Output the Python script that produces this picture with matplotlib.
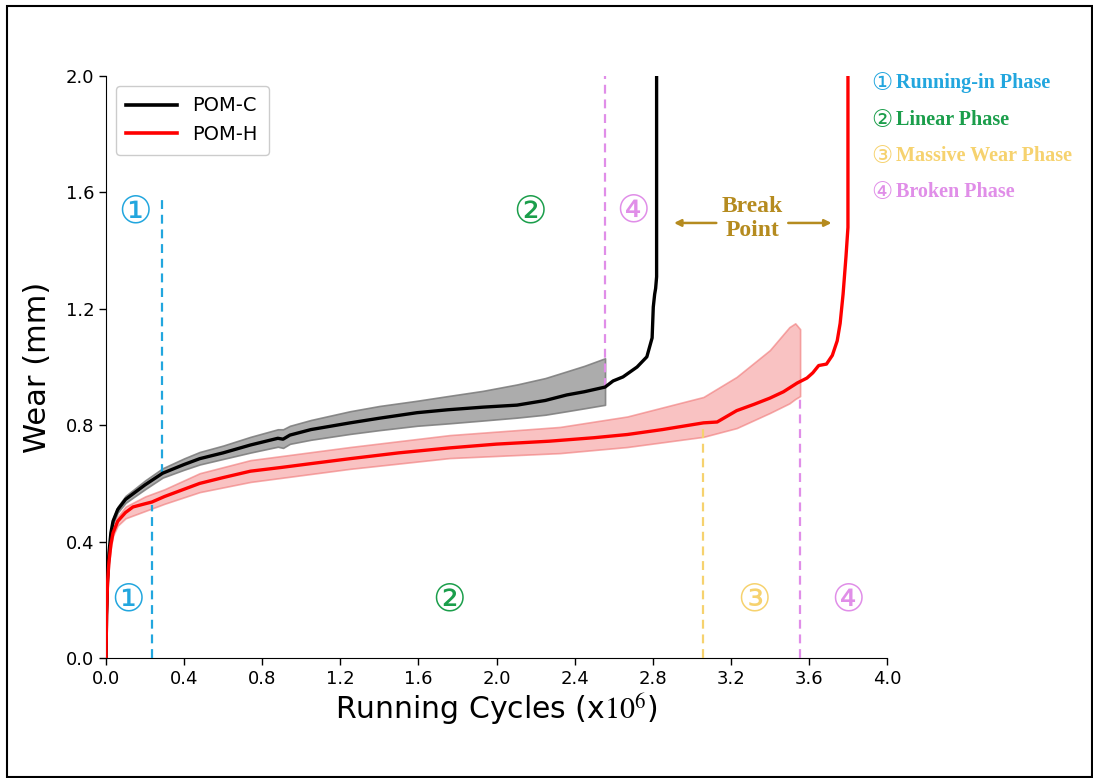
import matplotlib
matplotlib.use("Agg")
import matplotlib.pyplot as plt
from matplotlib.patches import Rectangle

# ---------------- data ----------------
# POM-C mean curve (x in 10^6 cycles, wear in mm)
pomc_x = [0, 0.003, 0.008, 0.015, 0.025, 0.036, 0.06, 0.1, 0.14, 0.2, 0.29, 0.4, 0.48, 0.6,
          0.74, 0.88, 0.907, 0.942, 1.05, 1.25, 1.4, 1.593, 1.75, 1.93, 2.105, 2.25, 2.36, 2.45,
          2.556, 2.597, 2.648, 2.72, 2.77, 2.797, 2.803, 2.81, 2.815, 2.82, 2.82]
pomc_y = [0, 0.15, 0.27, 0.36, 0.43, 0.47, 0.51, 0.545, 0.565, 0.595, 0.635, 0.665, 0.685, 0.705,
          0.732, 0.755, 0.752, 0.766, 0.785, 0.808, 0.824, 0.843, 0.853, 0.862, 0.869, 0.885, 0.904, 0.915,
          0.931, 0.952, 0.966, 1.0, 1.035, 1.10, 1.206, 1.25, 1.27, 1.31, 2.1]
# POM-C scatter band
pomc_band_x = [0, 0.003, 0.008, 0.015, 0.025, 0.036, 0.06, 0.1, 0.14, 0.2, 0.29, 0.4, 0.48, 0.6,
               0.74, 0.88, 0.907, 0.942, 1.05, 1.25, 1.4, 1.593, 1.75, 1.93, 2.105, 2.25, 2.36, 2.45, 2.556]
pomc_low = [0, 0.14, 0.26, 0.35, 0.42, 0.46, 0.50, 0.533, 0.552, 0.58, 0.62, 0.647, 0.665, 0.684,
            0.706, 0.726, 0.722, 0.736, 0.75, 0.77, 0.783, 0.798, 0.806, 0.816, 0.826, 0.836, 0.848, 0.858, 0.87]
pomc_up = [0, 0.16, 0.28, 0.37, 0.44, 0.48, 0.52, 0.557, 0.578, 0.61, 0.652, 0.686, 0.708, 0.73,
           0.76, 0.786, 0.786, 0.798, 0.818, 0.848, 0.866, 0.884, 0.9, 0.918, 0.94, 0.962, 0.985, 1.004, 1.03]

# POM-H mean curve
pomh_x = [0, 0.003, 0.008, 0.015, 0.025, 0.036, 0.06, 0.1, 0.138, 0.2, 0.235, 0.3, 0.48, 0.6,
          0.74, 0.9, 1.05, 1.25, 1.5, 1.76, 2.0, 2.27, 2.5, 2.67, 2.85, 3.06, 3.13, 3.23, 3.32,
          3.40, 3.47, 3.54, 3.59, 3.62, 3.65, 3.69, 3.72, 3.745, 3.76, 3.775, 3.79, 3.80, 3.80]
pomh_y = [0, 0.15, 0.26, 0.33, 0.39, 0.43, 0.47, 0.50, 0.519, 0.53, 0.536, 0.555, 0.60, 0.62,
          0.642, 0.655, 0.668, 0.685, 0.705, 0.722, 0.735, 0.745, 0.757, 0.768, 0.785, 0.808, 0.811, 0.85, 0.872,
          0.893, 0.915, 0.945, 0.962, 0.98, 1.005, 1.01, 1.04, 1.09, 1.15, 1.25, 1.38, 1.48, 2.1]
# POM-H scatter band
pomh_band_x = [0, 0.003, 0.008, 0.015, 0.025, 0.036, 0.06, 0.1, 0.2, 0.3, 0.48, 0.74, 1.25, 1.76,
               2.325, 2.67, 3.06, 3.23, 3.40, 3.50, 3.53, 3.555]
pomh_low = [0, 0.14, 0.25, 0.32, 0.38, 0.42, 0.455, 0.48, 0.505, 0.53, 0.57, 0.605, 0.65, 0.687,
            0.704, 0.725, 0.76, 0.79, 0.842, 0.875, 0.89, 0.90]
pomh_up = [0, 0.16, 0.27, 0.34, 0.40, 0.44, 0.485, 0.52, 0.555, 0.58, 0.635, 0.68, 0.725, 0.766,
           0.794, 0.83, 0.897, 0.966, 1.058, 1.137, 1.15, 1.13]

# phase boundary lines: (x, y_start, y_end)
runin_lines = [(0.234, 0.0, 0.526), (0.285, 0.635, 1.574)]
broken_lines = [(2.556, 0.93, 2.0), (3.555, 0.0, 0.905)]
massive_lines = [(3.06, 0.0, 0.81)]

x_ticks = [0.0, 0.4, 0.8, 1.2, 1.6, 2.0, 2.4, 2.8, 3.2, 3.6, 4.0]
y_ticks = [0.0, 0.4, 0.8, 1.2, 1.6, 2.0]

phase_names = ["Running-in Phase", "Linear Phase", "Massive Wear Phase", "Broken Phase"]
phase_marks = ["\u2460", "\u2461", "\u2462", "\u2463"]
phase_colors = ["#22a6de", "#1b9e4b", "#f6d26e", "#e08ee8"]
gold = "#b58b1f"

# ---------------- figure ----------------
fig = plt.figure(figsize=(10.93, 7.78), dpi=100)
ax = fig.add_axes([106 / 1093, 1 - 658 / 778, 781 / 1093, 582 / 778])

ax.fill_between(pomc_band_x, pomc_low, pomc_up, facecolor="#9e9e9e", edgecolor="#7a7a7a",
                linewidth=1.2, alpha=0.85, zorder=2)
ax.fill_between(pomh_band_x, pomh_low, pomh_up, facecolor="#f59a9a", edgecolor="#f07575",
                linewidth=1.2, alpha=0.6, zorder=2)

ax.plot(pomc_x, pomc_y, color="black", lw=2.4, label="POM-C", zorder=4)
ax.plot(pomh_x, pomh_y, color="#ff0000", lw=2.4, label="POM-H", zorder=4)

dash = (0, (4, 2.6))
for x, y0, y1 in runin_lines:
    ax.plot([x, x], [y0, y1], color=phase_colors[0], lw=1.6, ls=dash, zorder=3)
for x, y0, y1 in broken_lines:
    ax.plot([x, x], [y0, y1], color=phase_colors[3], lw=1.6, ls=dash, zorder=3)
for x, y0, y1 in massive_lines:
    ax.plot([x, x], [y0, y1], color=phase_colors[2], lw=1.6, ls=dash, zorder=3)

ax.set_xlim(0, 4.0)
ax.set_ylim(0, 2.0)
ax.set_xticks(x_ticks)
ax.set_yticks(y_ticks)
ax.set_xticklabels([f"{v:.1f}" for v in x_ticks])
ax.set_yticklabels([f"{v:.1f}" for v in y_ticks])
ax.tick_params(labelsize=13, length=5, width=1)
ax.spines["top"].set_visible(False)
ax.spines["right"].set_visible(False)

ax.set_xlabel("Running Cycles (x$10^6$)", fontsize=21.5, math_fontfamily="stix", labelpad=3)
ax.set_ylabel("Wear (mm)", fontsize=22, labelpad=10)

leg = ax.legend(loc="upper left", fontsize=14, handlelength=2.6, borderaxespad=0.5,
                framealpha=1, borderpad=0.55)
for line in leg.get_lines():
    line.set_linewidth(2.6)

circ_fam = ["DejaVu Sans", "Noto Sans CJK SC"]
big = 27
# in-plot phase markers
ax.text(0.113, 0.196, phase_marks[0], color=phase_colors[0], fontsize=big, family=circ_fam,
        ha="center", va="center")
ax.text(0.148, 1.53, phase_marks[0], color=phase_colors[0], fontsize=big, family=circ_fam,
        ha="center", va="center")
ax.text(1.756, 0.196, phase_marks[1], color=phase_colors[1], fontsize=big, family=circ_fam,
        ha="center", va="center")
ax.text(2.17, 1.53, phase_marks[1], color=phase_colors[1], fontsize=big, family=circ_fam,
        ha="center", va="center")
ax.text(3.32, 0.196, phase_marks[2], color=phase_colors[2], fontsize=big, family=circ_fam,
        ha="center", va="center")
ax.text(3.80, 0.196, phase_marks[3], color=phase_colors[3], fontsize=big, family=circ_fam,
        ha="center", va="center")
ax.text(2.70, 1.535, phase_marks[3], color=phase_colors[3], fontsize=big, family=circ_fam,
        ha="center", va="center")

# break point annotation
ax.text(3.31, 1.51, "Break\nPoint", color=gold, fontsize=17, fontweight="bold",
        family="Liberation Serif", ha="center", va="center", linespacing=1.2)
ax.annotate("", xy=(2.895, 1.495), xytext=(3.14, 1.495),
            arrowprops=dict(arrowstyle="-|>", color=gold, lw=1.8, mutation_scale=10))
ax.annotate("", xy=(3.73, 1.495), xytext=(3.48, 1.495),
            arrowprops=dict(arrowstyle="-|>", color=gold, lw=1.8, mutation_scale=10))

# phase legend on the right
ys = [83, 120, 156, 192]
for mark, name, col, yp in zip(phase_marks, phase_names, phase_colors, ys):
    fig.text(882 / 1093, 1 - yp / 778, mark, color=col, fontsize=17, family=circ_fam,
             ha="center", va="center")
    fig.text(896 / 1093, 1 - yp / 778, name, color=col, fontsize=14.5, fontweight="bold",
             family="Liberation Serif", ha="left", va="center")

# outer frame
fig.patches.append(Rectangle((7 / 1093, 1 / 778), 1085 / 1093, 771 / 778, transform=fig.transFigure,
                             fill=False, edgecolor="black", linewidth=1.5))

fig.savefig("out.png", dpi=100)
